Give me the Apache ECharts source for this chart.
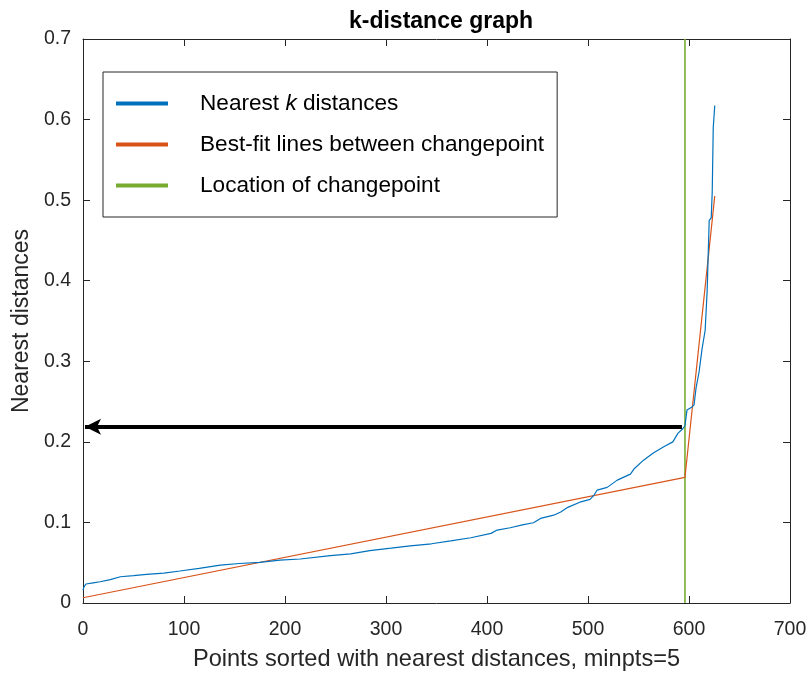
<!DOCTYPE html>
<html>
<head>
<meta charset="utf-8">
<script src="https://cdn.jsdelivr.net/npm/echarts@6/dist/echarts.min.js"></script>
<style>html,body{margin:0;padding:0;background:#fff;}#main{width:807px;height:673px;}</style>
</head>
<body>
<div id="main"></div>
<script>
// Nearest k-distances (sorted)
const kdistX = [0, 1, 3, 10, 17, 27, 37, 50, 63, 80, 96, 115, 136, 155, 175, 195, 215, 245, 265, 284, 305, 324, 345, 364, 384, 404, 410, 423, 435, 446, 453, 466, 473, 480, 493, 502, 506, 509, 519, 529, 542, 546, 555, 565, 575, 584, 589, 594, 596, 598, 603, 605, 607, 610, 613, 616, 618, 620, 622, 623, 624, 625.5];
const kdistY = [0.016, 0.02, 0.0236, 0.025, 0.0264, 0.029, 0.0326, 0.034, 0.0356, 0.037, 0.0397, 0.043, 0.047, 0.049, 0.0505, 0.0533, 0.0546, 0.0587, 0.061, 0.065, 0.068, 0.071, 0.0735, 0.077, 0.081, 0.0864, 0.0905, 0.0934, 0.097, 0.0996, 0.105, 0.109, 0.113, 0.1187, 0.1256, 0.1286, 0.134, 0.140, 0.1435, 0.1525, 0.160, 0.167, 0.1773, 0.1864, 0.194, 0.200, 0.2105, 0.2166, 0.220, 0.2394, 0.2434, 0.246, 0.267, 0.287, 0.316, 0.3385, 0.388, 0.475, 0.478, 0.510, 0.59, 0.6175];
// Best-fit piecewise lines
const fitX = [0, 596, 625.5];
const fitY = [0.0065, 0.156, 0.505];
// Changepoint location
const changeX = [596, 596];
const changeY = [0, 0.7];
// Arrow (from changepoint value to y-axis)
const arrowX = [593, 2];
const arrowY = [0.2186, 0.2186];

const xTicks = [0, 100, 200, 300, 400, 500, 600, 700];
const yTicks = [0, 0.1, 0.2, 0.3, 0.4, 0.5, 0.6, 0.7];

const seriesNames = ['Nearest k distances', 'Best-fit lines between changepoint', 'Location of changepoint'];
const zip = (a, b) => a.map((v, i) => [v, b[i]]);

const FONT = 'Liberation Sans, Arial, sans-serif';
const axisCol = '#262626';

const chart = echarts.init(document.getElementById('main'), null, {renderer: 'canvas'});
chart.setOption({
  animation: false,
  backgroundColor: '#fff',
  title: {
    text: 'k-distance graph',
    left: 436, textAlign: 'center', top: 5,
    textStyle: {fontFamily: FONT, fontSize: 23, fontWeight: 'bold', color: '#000'}
  },
  grid: {left: 83, right: 17, top: 39, bottom: 70, containLabel: false, outerBoundsMode: 'none'},
  legend: {
    orient: 'vertical',
    left: 103, top: 72,
    padding: [20, 13, 20, 13],
    itemGap: 18,
    itemWidth: 52, itemHeight: 4,
    icon: 'rect',
    borderColor: '#262626', borderWidth: 1,
    backgroundColor: '#fff',
    data: seriesNames,
    formatter: function (n) {
      if (n === seriesNames[0]) return 'Nearest {i|k} distances';
      return n;
    },
    textStyle: {
      fontFamily: FONT, fontSize: 22.6, color: '#000', padding: [0, 0, 0, 27], lineHeight: 21,
      rich: {i: {fontFamily: FONT, fontSize: 22.6, fontStyle: 'italic', color: '#000', lineHeight: 21}}
    }
  },
  xAxis: [{
    type: 'value', min: 0, max: 700, interval: 100,
    name: 'Points sorted with nearest distances, minpts=5',
    nameLocation: 'middle', nameGap: 44,
    nameTextStyle: {fontFamily: FONT, fontSize: 23.6, color: '#262626'},
    axisLine: {show: true, onZero: false, lineStyle: {color: axisCol, width: 1}},
    axisTick: {show: true, inside: true, length: 7, lineStyle: {color: axisCol}},
    axisLabel: {fontFamily: FONT, fontSize: 19.5, color: '#262626', margin: 17},
    splitLine: {show: false}
  }, {
    type: 'value', min: 0, max: 700, interval: 100, position: 'top',
    axisLine: {show: true, onZero: false, lineStyle: {color: axisCol, width: 1}},
    axisTick: {show: true, inside: true, length: 7, lineStyle: {color: axisCol}},
    axisLabel: {show: false}, splitLine: {show: false}
  }],
  yAxis: [{
    type: 'value', min: 0, max: 0.7, interval: 0.1,
    name: 'Nearest distances',
    nameLocation: 'middle', nameGap: 48,
    nameTextStyle: {fontFamily: FONT, fontSize: 23, color: '#262626'},
    axisLine: {show: true, onZero: false, lineStyle: {color: axisCol, width: 1}},
    axisTick: {show: true, inside: true, length: 7, lineStyle: {color: axisCol}},
    axisLabel: {fontFamily: FONT, fontSize: 19.5, color: '#262626', margin: 12,
      formatter: v => (Math.round(v * 10) / 10).toString()},
    splitLine: {show: false}
  }, {
    type: 'value', min: 0, max: 0.7, interval: 0.1, position: 'right',
    axisLine: {show: true, onZero: false, lineStyle: {color: axisCol, width: 1}},
    axisTick: {show: true, inside: true, length: 7, lineStyle: {color: axisCol}},
    axisLabel: {show: false}, splitLine: {show: false}
  }],
  series: [
    {
      name: seriesNames[0], type: 'line', data: zip(kdistX, kdistY),
      showSymbol: false, symbol: 'none', color: '#0072BD',
      lineStyle: {width: 1.2, color: '#0072BD'}, z: 3
    },
    {
      name: seriesNames[1], type: 'line', data: zip(fitX, fitY),
      showSymbol: false, symbol: 'none', color: '#D95319',
      lineStyle: {width: 1.2, color: '#D95319'}, z: 2
    },
    {
      name: seriesNames[2], type: 'line', data: zip(changeX, changeY),
      showSymbol: false, symbol: 'none', color: '#77AC30',
      lineStyle: {width: 1.6, color: '#77AC30'}, z: 1
    },
    {
      name: 'arrow', type: 'line', data: zip(arrowX, arrowY),
      showSymbol: false, symbol: 'none', lineStyle: {width: 0},
      markLine: {
        silent: true, animation: false,
        symbol: ['none', 'arrow'], symbolSize: [12, 16],
        label: {show: false},
        lineStyle: {color: '#000', width: 4, type: 'solid'},
        data: [[{coord: [arrowX[0], arrowY[0]]}, {coord: [arrowX[1], arrowY[1]]}]]
      },
      z: 4
    }
  ]
});
</script>
</body>
</html>
